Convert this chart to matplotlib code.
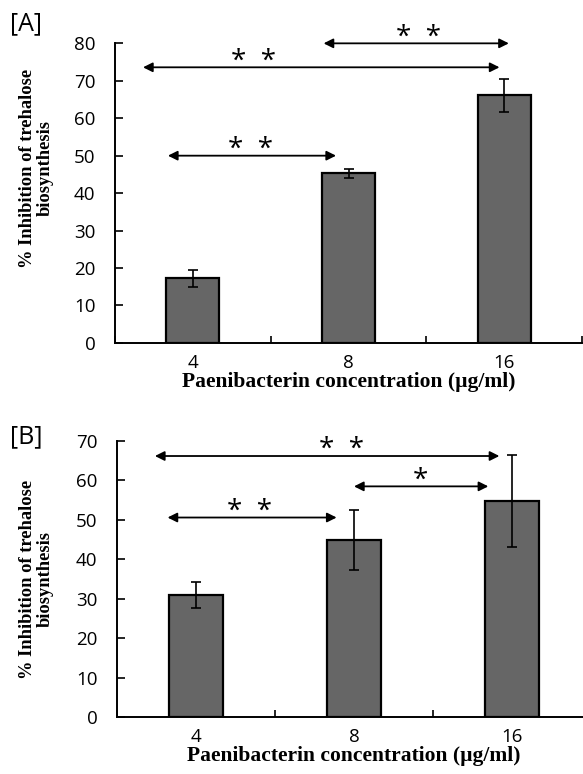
import matplotlib
matplotlib.use("Agg")
from matplotlib import pyplot as plt

# datos
concentraciones = ["4", "8", "16"]
inhibicion_A = [17.2, 45.3, 66.1]
error_A = [2.2, 1.2, 4.4]
inhibicion_B = [31.0, 44.8, 54.8]
error_B = [3.3, 7.6, 11.6]

# comparaciones: (desde, hasta, altura, etiqueta, x de la etiqueta)
comparaciones_A = [(0.84, 2.03, 80.0, "*  *", 1.45),
                   (-0.32, 1.97, 73.6, "*  *", 0.39),
                   (-0.16, 0.92, 50.0, "*  *", 0.37)]
comparaciones_B = [(-0.26, 1.92, 66.2, "*  *", 0.92),
                   (1.00, 1.85, 58.5, "*", 1.42),
                   (-0.18, 0.89, 50.6, "*  *", 0.34)]

fuente_serif = "Liberation Serif"
fuente_sans = "Open Sans"


def grafica_barras(ax, valores, errores, comparaciones, ymax, pos_ylabel):
    x = range(len(concentraciones))
    ax.bar(x, valores, width=0.34, color="#666666", edgecolor="black",
           linewidth=1.6, zorder=2)
    ax.errorbar(x, valores, yerr=errores, fmt="none", ecolor="black",
                elinewidth=1.2, capsize=3.5, capthick=1.2, zorder=3)
    ax.set_xlim(-0.5, 2.5)
    ax.set_ylim(0, ymax)
    ax.set_yticks(range(0, ymax + 1, 10))
    ax.set_xticks(list(x))
    ax.set_xticklabels(concentraciones)
    ax.set_xticks([-0.5, 0.5, 1.5, 2.5], minor=True)
    ax.tick_params(axis="x", which="major", length=0, pad=8)
    ax.tick_params(axis="x", which="minor", direction="in", length=5, width=1.2)
    ax.tick_params(axis="y", direction="in", length=6, width=1.2, pad=14)
    for lbl in ax.get_xticklabels() + ax.get_yticklabels():
        lbl.set_fontfamily(fuente_sans)
        lbl.set_fontsize(13.5)
    for lado in ["top", "right"]:
        ax.spines[lado].set_visible(False)
    for lado in ["left", "bottom"]:
        ax.spines[lado].set_linewidth(1.4)
    ax.set_xlabel("Paenibacterin concentration (µg/ml)", fontfamily=fuente_serif,
                  fontweight="bold", fontsize=15.5, labelpad=0)
    ax.set_ylabel("% Inhibition of trehalose\nbiosynthesis", fontfamily=fuente_serif,
                  fontweight="bold", fontsize=13.3, linespacing=1.05)
    ax.yaxis.set_label_coords(pos_ylabel[0], pos_ylabel[1])
    # flechas de significancia
    for x0, x1, y, etiqueta, xt in comparaciones:
        ax.annotate("", xy=(x1, y), xytext=(x0, y), annotation_clip=False,
                    arrowprops=dict(arrowstyle="<|-|>", color="black", lw=1.3,
                                    mutation_scale=14, shrinkA=0, shrinkB=0))
        ax.annotate(etiqueta, xy=(xt, y), xytext=(0, -6), textcoords="offset points",
                    ha="center", va="bottom", fontsize=20, fontfamily=fuente_sans,
                    annotation_clip=False)


fig = plt.figure(figsize=(5.83, 7.74), dpi=100)
axA = fig.add_axes([115 / 583, 0.557, 467 / 583, 0.387])
axB = fig.add_axes([117 / 583, 0.0736, 474 / 583, 0.3566])
grafica_barras(axA, inhibicion_A, error_A, comparaciones_A, 80, (-0.131, 0.583))
grafica_barras(axB, inhibicion_B, error_B, comparaciones_B, 70, (-0.134, 0.5))
fig.text(10 / 583, 1 - 24 / 774, "[A]", fontsize=18, fontfamily=fuente_sans,
         ha="left", va="center")
fig.text(10 / 583, 1 - 437 / 774, "[B]", fontsize=18, fontfamily=fuente_sans,
         ha="left", va="center")
fig.savefig("out.png", dpi=100)
